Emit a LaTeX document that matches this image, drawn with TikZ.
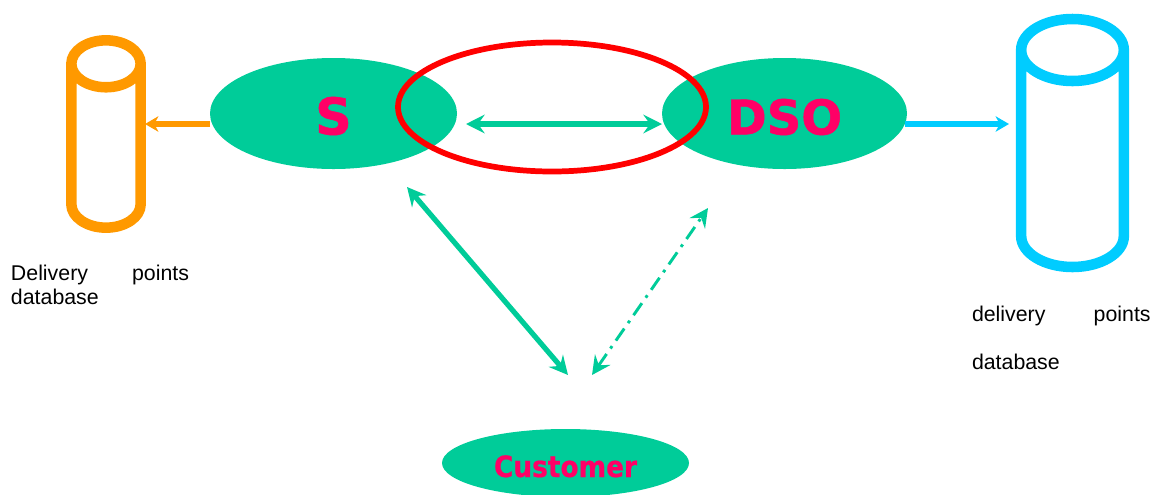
\documentclass[tikz,border=0pt]{standalone}
\usepackage{fontspec}
\setmainfont{Liberation Sans}
\newfontfamily\boldface{DejaVu Sans}[BoldFeatures={FakeBold=1}]
\newfontfamily\condface{DejaVu Sans Condensed}[BoldFeatures={FakeBold=0.6}]
\usetikzlibrary{shapes.geometric,arrows.meta}
\definecolor{actorgreen}{HTML}{00CC99}
\definecolor{actorpink}{HTML}{FF0066}
\definecolor{dborange}{HTML}{FF9900}
\definecolor{dbblue}{HTML}{00CCFF}
\tikzset{
  actor/.style={ellipse,fill=actorgreen,text=actorpink,inner sep=0pt,outer sep=0pt},
  database/.style={shape=cylinder,shape border rotate=90,anchor=shape center,draw,line width=7.9pt,inner sep=5pt,outer sep=0pt},
  flow/.style={line width=3.9pt},
  link/.style={actorgreen,line width=3.9pt,{Stealth[length=14pt,width=14pt,inset=5pt]}-{Stealth[length=14pt,width=14pt,inset=5pt]}},
  caption/.style={anchor=north west,inner sep=0pt,outer sep=0pt,font=\fontsize{16pt}{18pt}\selectfont,align=left}
}
\begin{document}
\begin{tikzpicture}[x=0.75pt,y=-0.75pt]
\useasboundingbox (0,0) rectangle (1157,494);

\node[actor,minimum width=185.25pt,minimum height=83.25pt,font=\bfseries\boldface\fontsize{38pt}{38pt}\selectfont] (s) at (333.5,113.5) {\raisebox{-15.75pt}[5pt][5pt]{S}};
\node[actor,minimum width=183.75pt,minimum height=83.25pt,font=\bfseries\boldface\fontsize{36pt}{36pt}\selectfont] (dso) at (784.5,113.5) {\raisebox{-15.75pt}[5pt][5pt]{DSO}};
\node[actor,minimum width=185.25pt,minimum height=51pt,font=\bfseries\condface\fontsize{22pt}{22pt}\selectfont] (customer) at (565.5,463) {\raisebox{-10.5pt}[5pt][5pt]{Customer}};

\node[draw=red,ellipse,line width=4.3pt,inner sep=0pt,outer sep=0pt,minimum width=231pt,minimum height=96.75pt] (focus) at (552,107) {};

\node[database,draw=dborange,minimum width=52pt,minimum height=140.5pt,shape aspect=3.52] (dbs) at (106,134) {};
\node[database,draw=dbblue,minimum width=77pt,minimum height=186pt,shape aspect=4.65] (dbdso) at (1072.5,143) {};

\coordinate (dbsin) at (145,124);
\coordinate (sout) at (210,124);
\coordinate (dsoout) at (905,124);
\coordinate (dbdsoin) at (1009,124);
\coordinate (sright) at (466,124);
\coordinate (dsoleft) at (662,124);
\coordinate (sbelow) at (407,187);
\coordinate (custleft) at (568,375);
\coordinate (dsobelow) at (708,208);
\coordinate (custright) at (592,375);

\draw[flow,dborange,-{Stealth[length=10pt,width=11.5pt,inset=3pt]}] (sout) -- (dbsin);
\draw[flow,dbblue,-{Stealth[length=10pt,width=11.5pt,inset=3pt]}] (dsoout) -- (dbdsoin);
\draw[link] (sright) -- (dsoleft);
\draw[link] (sbelow) -- (custleft);
\draw[link,line width=2.2pt,dash pattern=on 11pt off 5pt on 2.2pt off 5pt] (custright) -- (dsobelow);

\node[caption,text width=133.5pt] (textleft) at (11,265) {Delivery\hfill points\\database};
\node[caption,text width=134pt,font=\fontsize{16pt}{36pt}\selectfont] (textright) at (972,306.5) {delivery\hfill points\\database};
\end{tikzpicture}
\end{document}
